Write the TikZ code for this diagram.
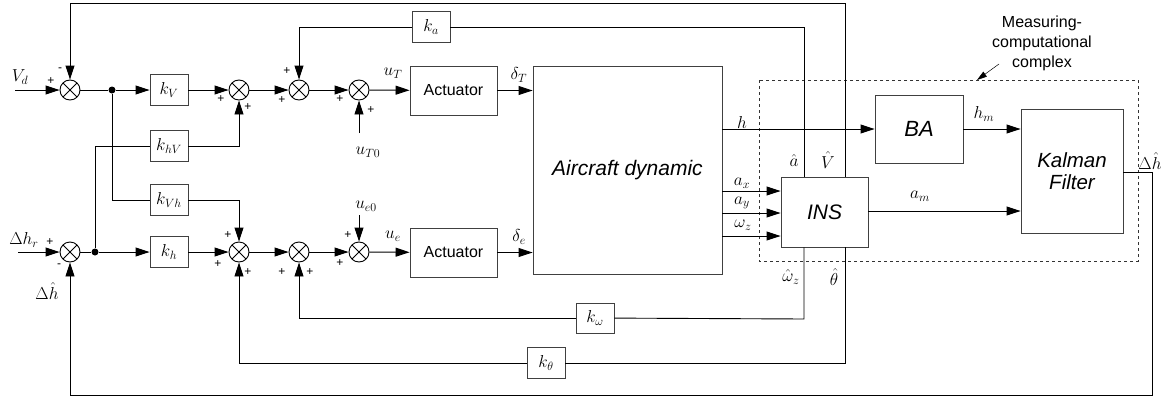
\documentclass[tikz,border=0pt]{standalone}
\usepackage{fontspec}
\newfontfamily\arialf{Liberation Sans}
\usetikzlibrary{arrows.meta}

\begin{document}
\begin{tikzpicture}[x=1pt, y=-1pt, line width=0.9pt,
    sumnode/.style={circle, draw, minimum size=20pt, inner sep=0pt,
      path picture={\draw (path picture bounding box.north west) -- (path picture bounding box.south east)
        (path picture bounding box.north east) -- (path picture bounding box.south west);}},
    gainbox/.style={draw=black!75, minimum width=38pt, minimum height=31pt, inner sep=0pt,
      font=\fontsize{18}{20}\selectfont},
    blockbox/.style={draw=black!75, inner sep=0pt, font=\arialf\fontsize{16}{19}\selectfont},
    dotnode/.style={circle, fill, minimum size=7pt, inner sep=0pt},
    arr/.style={-{Triangle[length=14pt, width=9pt]}},
    annarr/.style={line width=0.5pt, -{Triangle[length=10pt, width=6pt]}},
    sgn/.style={font=\arialf\fontsize{12}{12}\selectfont, inner sep=0pt},
    lbl/.style={font=\fontsize{18}{20}\selectfont, inner sep=0pt}]

  \useasboundingbox (0,0) rectangle (1163,399);

  % Summing junctions
  \node[sumnode] (sV) at (70,90) {};
  \node[sumnode] (sA) at (239,90) {};
  \node[sumnode] (sB) at (299,90) {};
  \node[sumnode] (sC) at (359,90) {};
  \node[sumnode] (sH) at (70,252) {};
  \node[sumnode] (sD) at (239,252) {};
  \node[sumnode] (sE) at (299,252) {};
  \node[sumnode] (sF) at (359,252) {};

  % Branch points
  \node[dotnode] (jV) at (112,90) {};
  \node[dotnode] (jH) at (95,252) {};

  % Gains
  \node[gainbox] (kV)  at (169,90)  {$k_V$};
  \node[gainbox] (khV) at (169,146) {$k_{hV}$};
  \node[gainbox] (kVh) at (169,200) {$k_{Vh}$};
  \node[gainbox] (kh)  at (169,252) {$k_h$};
  \node[gainbox] (ka)  at (431,27)  {$k_a$};
  \node[gainbox, minimum height=30pt] (kw) at (595,318) {$k_\omega$};
  \node[gainbox] (kth) at (546,363) {$k_\theta$};

  % Blocks
  \node[blockbox, minimum width=87pt, minimum height=49pt] (act1) at (453.5,90.5) {Actuator};
  \node[blockbox, minimum width=87pt, minimum height=49pt] (act2) at (453.5,252.5) {Actuator};
  \node[blockbox, minimum width=189pt, minimum height=208pt,
        font=\arialf\itshape\fontsize{21}{24}\selectfont] (air) at (627.5,170) {Aircraft dynamic};
  \node[blockbox, minimum width=87pt, minimum height=70pt,
        font=\arialf\itshape\fontsize{21}{24}\selectfont] (ins) at (824.5,212) {INS};
  \node[blockbox, minimum width=88pt, minimum height=68pt,
        font=\arialf\itshape\fontsize{22}{24}\selectfont] (ba) at (919,129) {BA};
  \node[blockbox, minimum width=102pt, minimum height=124pt, align=center,
        font=\arialf\itshape\fontsize{20.5}{18}\selectfont] (kf) at (1072,171) {Kalman\\[4pt]Filter};

  % Measuring-computational complex
  \draw[dashed, line width=0.7pt, black!80] (759,80) rectangle (1138,261);
  \node[font=\arialf\fontsize{16}{20}\selectfont, align=center, inner sep=0pt] (mc) at (1042,43)
    {Measuring-\\computational\\complex};
  \coordinate (mcFrom) at (999,64);
  \coordinate (mcTip) at (977,80);
  \draw[annarr] (mcFrom) -- (mcTip);

  % Helper points for the feedback paths
  \coordinate (vin) at (15,90);
  \coordinate (hin) at (18,252);
  \coordinate (uT0) at (359,133);
  \coordinate (ue0) at (359,215);
  \coordinate (topR) at (845,3);
  \coordinate (kaR) at (804,27);
  \coordinate (wR) at (804,319);
  \coordinate (thR) at (845,363);
  \coordinate (botR) at (1152,395);

  % Speed channel
  \draw[arr] (vin) -- (sV);
  \draw (sV) -- (jV);
  \draw[arr] (jV) -- (kV);
  \draw[arr] (kV) -- (sA);
  \draw[arr] (sA) -- (sB);
  \draw[arr] (sB) -- (sC);
  \draw[arr] (sC) -- (act1);
  \draw[arr] (act1) -- (act1 -| air.west);
  \draw[arr] (uT0) -- (sC);

  % Height channel
  \draw[arr] (hin) -- (sH);
  \draw (sH) -- (jH);
  \draw[arr] (jH) -- (kh);
  \draw[arr] (kh) -- (sD);
  \draw[arr] (sD) -- (sE);
  \draw[arr] (sE) -- (sF);
  \draw[arr] (sF) -- (act2);
  \draw[arr] (act2) -- (act2 -| air.west);
  \draw[arr] (ue0) -- (sF);

  % Cross links
  \draw (jV) |- (kVh);
  \draw[arr] (kVh) -| (sD);
  \draw (jH) |- (khV);
  \draw[arr] (khV) -| (sA);

  % Aircraft outputs
  \draw[arr] (air.east |- ba) -- (ba);
  \draw[arr] (air.east |- 0,191) -- (ins.west |- 0,191);
  \draw[arr] (air.east |- 0,213) -- (ins.west |- 0,213);
  \draw[arr] (air.east |- 0,236) -- (ins.west |- 0,236);
  \draw[arr] (ba) -- (ba -| kf.west);
  \draw[arr] (ins.east |- 0,211) -- (kf.west |- 0,211);

  % Feedback paths
  \draw[arr] (ins.north -| topR) -- (topR) -| (sV);
  \draw (ins.north -| kaR) -- (kaR) -- (ka);
  \draw[arr] (ka) -| (sB);
  \draw (ins.south -| wR) -- (wR) -- (kw);
  \draw[arr] (kw) -| (sE);
  \draw (ins.south -| thR) -- (thR) -- (kth);
  \draw[arr] (kth) -| (sD);
  \draw[arr] (kf.east |- 0,172) -| (botR) -| (sH);

  % Signs
  \node[sgn] (pV1) at (51,81) {+};
  \node[sgn] (pV2) at (60,70) {-};
  \node[sgn] (pA1) at (221,99) {+};
  \node[sgn] (pA2) at (248,107) {+};
  \node[sgn] (pB1) at (287,71) {+};
  \node[sgn] (pB2) at (282,100) {+};
  \node[sgn] (pC1) at (340,99) {+};
  \node[sgn] (pC2) at (371,110) {+};
  \node[sgn] (pH1) at (50,242) {+};
  \node[sgn] (pH2) at (59,266) {-};
  \node[sgn] (pD1) at (228,235) {+};
  \node[sgn] (pD2) at (218,264) {+};
  \node[sgn] (pD3) at (248,272) {+};
  \node[sgn] (pE1) at (282,272) {+};
  \node[sgn] (pE2) at (310,272) {+};
  \node[sgn] (pF1) at (348,235) {+};
  \node[sgn] (pF2) at (340,263) {+};

  % Signal labels
  \node[lbl] (lVd)  at (20,77)   {$V_d$};
  \node[lbl] (lhr)  at (24,240)  {$\Delta h_r$};
  \node[lbl] (lhf)  at (47,291)  {$\Delta\hat h$};
  \node[lbl] (luT0) at (368,152) {$u_{T0}$};
  \node[lbl] (lue0) at (366,206) {$u_{e0}$};
  \node[lbl] (luT)  at (393,73)  {$u_T$};
  \node[lbl] (ldT)  at (519,75)  {$\delta_T$};
  \node[lbl] (lue)  at (393,236) {$u_e$};
  \node[lbl] (lde)  at (519,237) {$\delta_e$};
  \node[lbl] (lh)   at (742,122) {$h$};
  \node[lbl] (lax)  at (742,183) {$a_x$};
  \node[lbl] (lay)  at (742,203) {$a_y$};
  \node[lbl] (lwz)  at (743,225) {$\omega_z$};
  \node[lbl] (lah)  at (794,160) {$\hat a$};
  \node[lbl] (lVh)  at (828,160) {$\hat V$};
  \node[lbl] (lhm)  at (984,114) {$h_m$};
  \node[lbl] (lam)  at (920,196) {$a_m$};
  \node[lbl] (ldh)  at (1150,161) {$\Delta\hat h$};
  \node[lbl] (lwh)  at (791,277) {$\hat\omega_z$};
  \node[lbl] (lth)  at (834,277) {$\hat\theta$};

\end{tikzpicture}
\end{document}
